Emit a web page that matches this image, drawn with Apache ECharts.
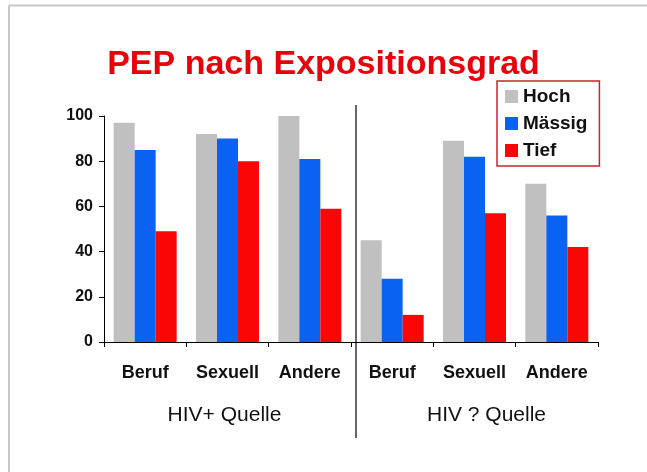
<!DOCTYPE html>
<html style="height: 100%">

<head>
    <meta charset="utf-8">
    <script src="https://cdn.jsdelivr.net/npm/echarts@6/dist/echarts.min.js"></script>
</head>

<body style="height: 100%; margin: 0; background: #fff">
    <div id="main" style="width: 647px; height: 472px;"></div>
    <script type="text/javascript">
    // data
    var categories = ['Beruf', 'Sexuell', 'Andere', 'Beruf', 'Sexuell', 'Andere'];
    var groups = ['HIV+ Quelle', 'HIV ? Quelle'];
    var seriesNames = ['Hoch', 'Mässig', 'Tief'];
    var hoch = [97, 92, 100, 45, 89, 70];
    var maessig = [85, 90, 81, 28, 82, 56];
    var tief = [49, 80, 59, 12, 57, 42];
    var yTicks = [0, 20, 40, 60, 80, 100];

    var font = 'Liberation Sans, Arial, sans-serif';
    var colors = ['#c0c0c0', '#0a62f2', '#fb0606'];

    var myChart = echarts.init(document.getElementById('main'));

    function bar(name, data, i) {
        return {
            name: name,
            type: 'bar',
            data: data,
            barWidth: 21,
            barGap: '0%',
            itemStyle: { color: colors[i] }
        };
    }

    var option = {
        animation: false,
        backgroundColor: '#fff',
        textStyle: { fontFamily: font },
        title: {
            text: 'PEP nach Expositionsgrad',
            left: 'center',
            top: 43,
            textStyle: { color: '#e8000b', fontSize: 34, fontWeight: 'bold', fontFamily: font }
        },
        legend: {
            data: seriesNames,
            orient: 'vertical',
            left: 497,
            top: 81,
            padding: [6, 12, 6, 8],
            itemWidth: 13,
            itemHeight: 13,
            itemGap: 8,
            borderColor: '#c8252c',
            borderWidth: 1.5,
            icon: 'rect',
            textStyle: { fontSize: 19, fontWeight: 'bold', color: '#111', fontFamily: font }
        },
        grid: {
            left: 104,
            right: 49,
            top: 116,
            bottom: 130,
            containLabel: false
        },
        xAxis: [
            {
                type: 'category',
                data: categories,
                axisLine: { lineStyle: { color: '#000', width: 1 } },
                axisTick: { show: true, length: 5, lineStyle: { color: '#000' } },
                axisLabel: { margin: 22, fontSize: 18, fontWeight: 'bold', color: '#111', fontFamily: font, interval: 0 }
            },
            {
                type: 'category',
                data: groups,
                position: 'bottom',
                axisLine: { show: false },
                axisTick: { show: false },
                axisLabel: {
                    margin: 63,
                    fontSize: 21,
                    color: '#111',
                    fontFamily: font,
                    formatter: function (v, i) { return i === 1 ? '{r|' + v + '}' : '{l|' + v + '}'; },
                    rich: {
                        l: { fontSize: 21, color: '#111', fontFamily: font, padding: [0, 6, 0, 0] },
                        r: { fontSize: 21, color: '#111', fontFamily: font, padding: [0, 0, 0, 24] }
                    }
                }
            }
        ],
        yAxis: {
            type: 'value',
            min: yTicks[0],
            max: yTicks[yTicks.length - 1],
            interval: yTicks[1] - yTicks[0],
            axisLine: { show: true, lineStyle: { color: '#000', width: 1 } },
            axisTick: { show: true, length: 5, lineStyle: { color: '#000' } },
            splitLine: { show: false },
            axisLabel: { margin: 11, fontSize: 16, fontWeight: 'bold', color: '#111', fontFamily: font }
        },
        series: [
            bar(seriesNames[0], hoch, 0),
            bar(seriesNames[1], maessig, 1),
            bar(seriesNames[2], tief, 2)
        ],
        graphic: [
            // divider between the two groups
            { type: 'line', shape: { x1: 356, y1: 105, x2: 356, y2: 438 }, style: { stroke: '#000', lineWidth: 1.2 }, z: 10 },
            // frame of the slide
            { type: 'line', shape: { x1: 9, y1: 5.5, x2: 647, y2: 5.5 }, style: { stroke: '#c8c8c8', lineWidth: 2 } },
            { type: 'line', shape: { x1: 9, y1: 5.5, x2: 9, y2: 472 }, style: { stroke: '#c8c8c8', lineWidth: 2 } }
        ]
    };

    myChart.setOption(option);
    </script>

</body>

</html>
